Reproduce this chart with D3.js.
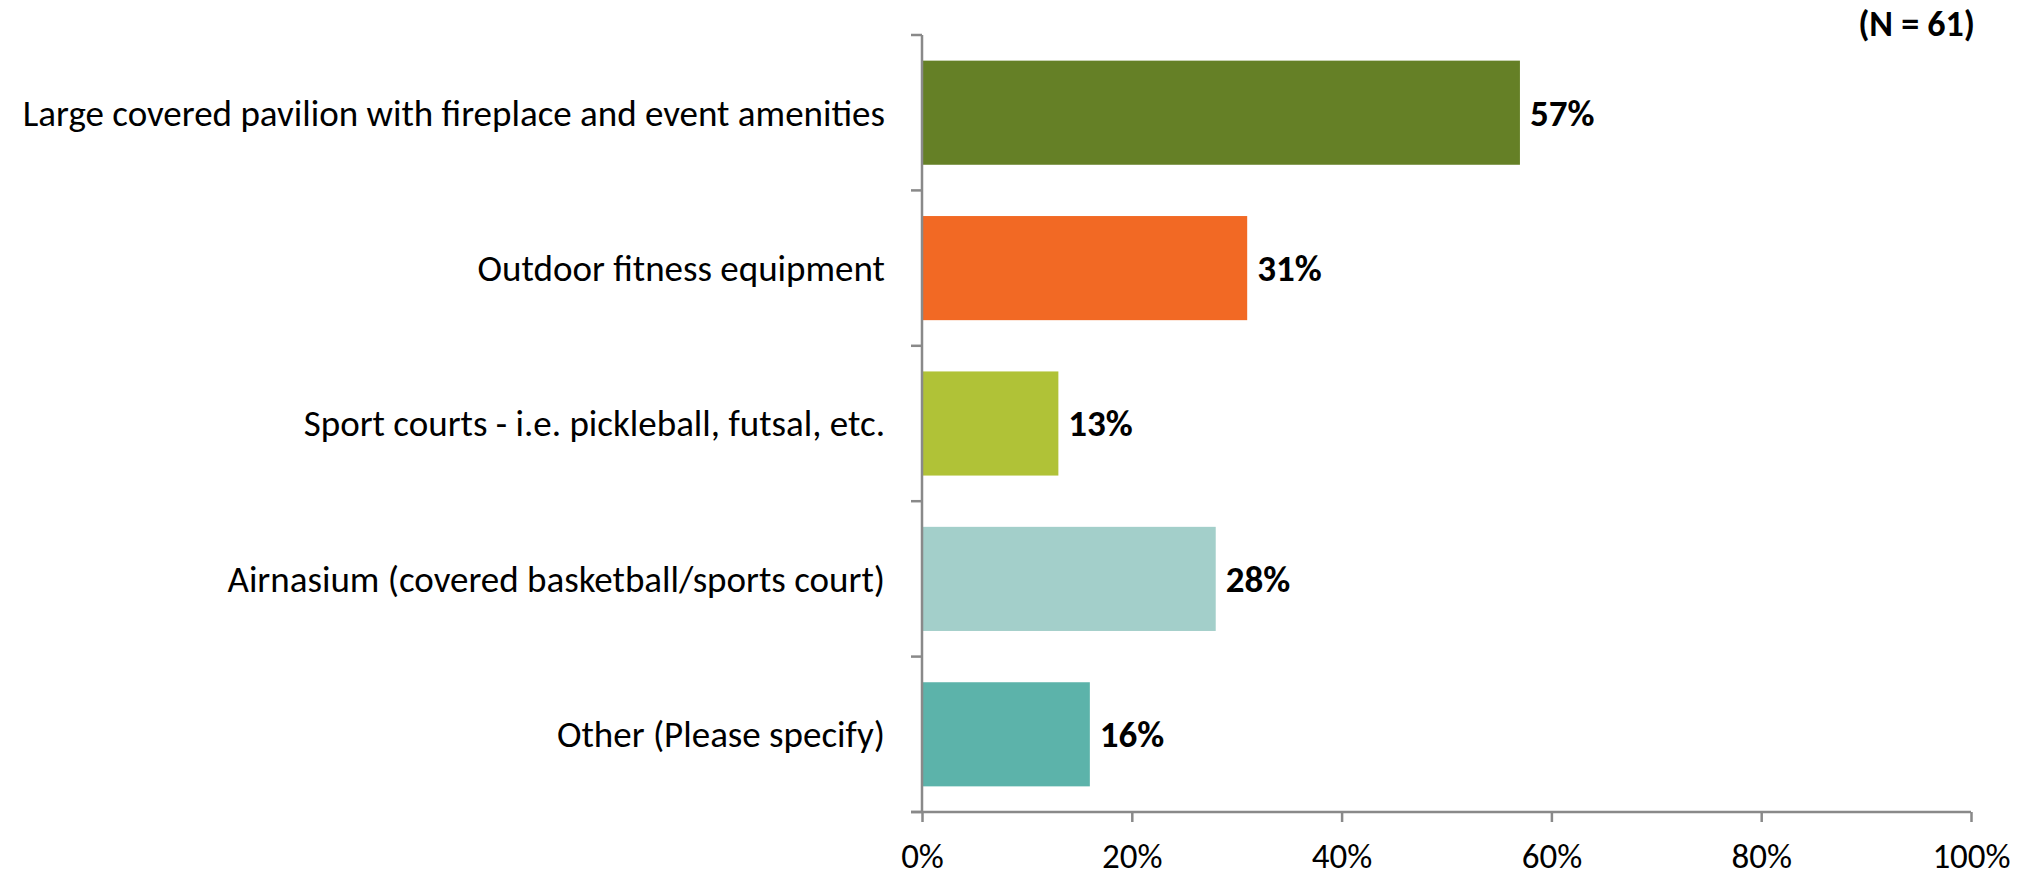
<!DOCTYPE html>
<html><head><meta charset="utf-8">
<script src="https://cdn.jsdelivr.net/npm/d3@7"></script>
<style>
html,body{margin:0;padding:0;background:#fff;}
text{font-family:Carlito,Calibri,Lato,"Open Sans",sans-serif;}
</style></head>
<body>
<svg id="chart" width="2033" height="876"></svg>
<script>
const categories = [
  "Large covered pavilion with fireplace and event amenities",
  "Outdoor fitness equipment",
  "Sport courts - i.e. pickleball, futsal, etc.",
  "Airnasium (covered basketball/sports court)",
  "Other (Please specify)"
];
const values = [0.57, 0.31, 0.13, 0.28, 0.16];
const colors = ["#658026", "#f26924", "#b0c237", "#a3cfca", "#5cb3aa"];
const xTicks = [0, 0.2, 0.4, 0.6, 0.8, 1.0];
const note = "(N = 61)";

const svg = d3.select("#chart");
const axisColor = "#898989";

const x = d3.scaleLinear().domain([0, 1]).range([922, 1971]);
const y = d3.scaleBand().domain(categories).range([35, 812]).paddingInner(0.33).paddingOuter(0.165);

// bars
svg.selectAll("rect.bar").data(categories).join("rect")
  .attr("class", "bar")
  .attr("x", x(0))
  .attr("y", d => y(d))
  .attr("width", (d, i) => x(values[i]) - x(0))
  .attr("height", y.bandwidth())
  .attr("fill", (d, i) => colors[i]);

// y axis line + ticks at band boundaries
const step = y.step();
const bounds = d3.range(categories.length + 1).map(i => 35 + i * step);
svg.append("line").attr("x1", x(0)).attr("x2", x(0)).attr("y1", 35).attr("y2", 812)
  .attr("stroke", axisColor).attr("stroke-width", 2.5);
svg.selectAll("line.ytick").data(bounds).join("line").attr("class", "ytick")
  .attr("x1", x(0) - 11).attr("x2", x(0)).attr("y1", d => d).attr("y2", d => d)
  .attr("stroke", axisColor).attr("stroke-width", 2.5);

// x axis
const xAxis = d3.axisBottom(x).tickValues(xTicks).tickFormat(d3.format(".0%")).tickSize(10).tickPadding(21);
const gx = svg.append("g").attr("transform", "translate(0,812)").call(xAxis);
gx.select(".domain").remove();
gx.append("line").attr("x1", x(0) - 11).attr("x2", x(1)).attr("y1", 0).attr("y2", 0)
  .attr("stroke", axisColor).attr("stroke-width", 2.5);
gx.selectAll(".tick line").attr("stroke", axisColor).attr("stroke-width", 2.5);
gx.selectAll(".tick text").attr("fill", "#000").attr("font-size", 35)
  .style("font-family", 'Carlito,Calibri,Lato,"Open Sans",sans-serif');

// category labels
svg.selectAll("text.cat").data(categories).join("text").attr("class", "cat")
  .attr("x", x(0) - 37)
  .attr("y", d => y(d) + y.bandwidth() / 2)
  .attr("dy", "0.35em")
  .attr("text-anchor", "end")
  .attr("font-size", 37)
  .attr("fill", "#000")
  .text(d => d);

// value labels
svg.selectAll("text.val").data(categories).join("text").attr("class", "val")
  .attr("x", (d, i) => x(values[i]) + 10)
  .attr("y", d => y(d) + y.bandwidth() / 2)
  .attr("dy", "0.35em")
  .attr("font-size", 37)
  .attr("font-weight", "bold")
  .attr("fill", "#000")
  .text((d, i) => d3.format(".0%")(values[i]));

// N note
svg.append("text").attr("x", 1975).attr("y", 36).attr("text-anchor", "end")
  .attr("font-size", 36).attr("font-weight", "bold").attr("fill", "#000").text(note);
</script>
</body></html>
